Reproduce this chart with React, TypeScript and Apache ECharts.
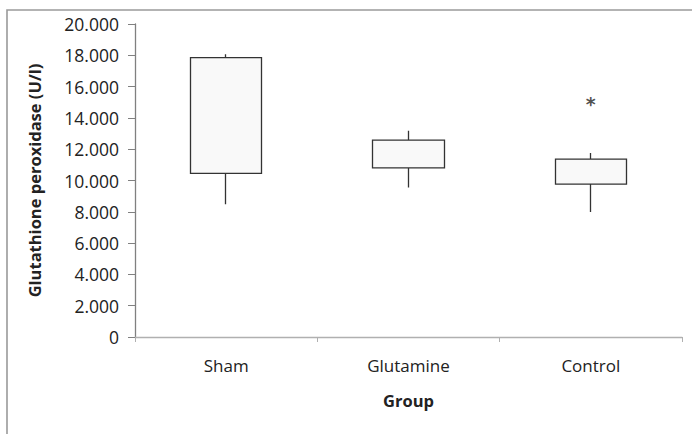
import React, { useEffect, useRef } from "react";
import * as echarts from "echarts";

const categories = ["Sham", "Glutamine", "Control"];
// [Q1 (box bottom), Q3 (box top), whisker low, whisker high]
const boxBottom = [10450, 10810, 9770];
const boxTop = [17850, 12580, 11370];
const whiskerLow = [8490, 9560, 7980];
const whiskerHigh = [18060, 13180, 11750];
const outlierCategory = ["Control"];
const outlierValue = [15030];
const yTicks = [0, 2000, 4000, 6000, 8000, 10000, 12000, 14000, 16000, 18000, 20000];

const FONT = "'Open Sans', 'Liberation Sans', sans-serif";

function fmt(v: number): string {
  if (v === 0) return "0";
  const th = Math.floor(v / 1000);
  const rest = String(v % 1000).padStart(3, "0");
  return `${th}.${rest}`;
}

export default function App() {
  const ref = useRef<HTMLDivElement>(null);
  useEffect(() => {
    document.body.style.margin = "0";
    const chart = echarts.init(ref.current!, undefined, { renderer: "svg" });
    const boxData = categories.map((_, i) => [boxBottom[i], boxTop[i], whiskerLow[i], whiskerHigh[i]]);
    chart.setOption({
      animation: false,
      backgroundColor: "#ffffff",
      graphic: [
        {
          type: "rect",
          shape: { x: 7, y: 10, width: 720, height: 460 },
          style: { fill: "none", stroke: "#9a9a9a", lineWidth: 1.6 },
          silent: true,
        },
      ],
      grid: { left: 135, right: 10, top: 24, bottom: 97 },
      xAxis: {
        type: "category",
        data: categories,
        boundaryGap: true,
        axisLine: { lineStyle: { color: "#b0b0b0", width: 1.3 } },
        axisTick: { show: true, length: 5, lineStyle: { color: "#b0b0b0" } },
        axisLabel: { color: "#222", fontFamily: FONT, fontSize: 17, margin: 20 },
        name: "Group",
        nameLocation: "middle",
        nameGap: 55,
        nameTextStyle: { color: "#222", fontFamily: FONT, fontSize: 16.5, fontWeight: "bold" },
      },
      yAxis: {
        type: "value",
        min: yTicks[0],
        max: yTicks[yTicks.length - 1],
        interval: yTicks[1] - yTicks[0],
        splitLine: { show: false },
        axisLine: { show: true, lineStyle: { color: "#808080", width: 1.3 } },
        axisTick: { show: true, length: 7, lineStyle: { color: "#808080" } },
        axisLabel: { color: "#222", fontFamily: FONT, fontSize: 17.5, margin: 16, formatter: (v: number) => fmt(v) },
        name: "Glutathione peroxidase (U/l)",
        nameLocation: "middle",
        nameGap: 92,
        nameTextStyle: { color: "#222", fontFamily: FONT, fontSize: 16.5, fontWeight: "bold" },
      },
      series: [
        {
          type: "candlestick",
          data: boxData,
          barWidth: 72,
          itemStyle: {
            color: "#f9f9f9",
            color0: "#f9f9f9",
            borderColor: "#333333",
            borderColor0: "#333333",
            borderWidth: 1.3,
          },
        },
        {
          type: "scatter",
          data: outlierCategory.map((c, i) => [c, outlierValue[i]]),
          symbolSize: 1,
          itemStyle: { color: "rgba(0,0,0,0)" },
          label: {
            show: true,
            position: "inside",
            formatter: "*",
            fontFamily: "'DejaVu Sans', sans-serif",
            fontSize: 19,
            fontWeight: "bold",
            offset: [0, 2],
            color: "#222",
          },
        },
      ],
    });
    return () => chart.dispose();
  }, []);
  return <div ref={ref} style={{ width: 692, height: 434 }} />;
}
